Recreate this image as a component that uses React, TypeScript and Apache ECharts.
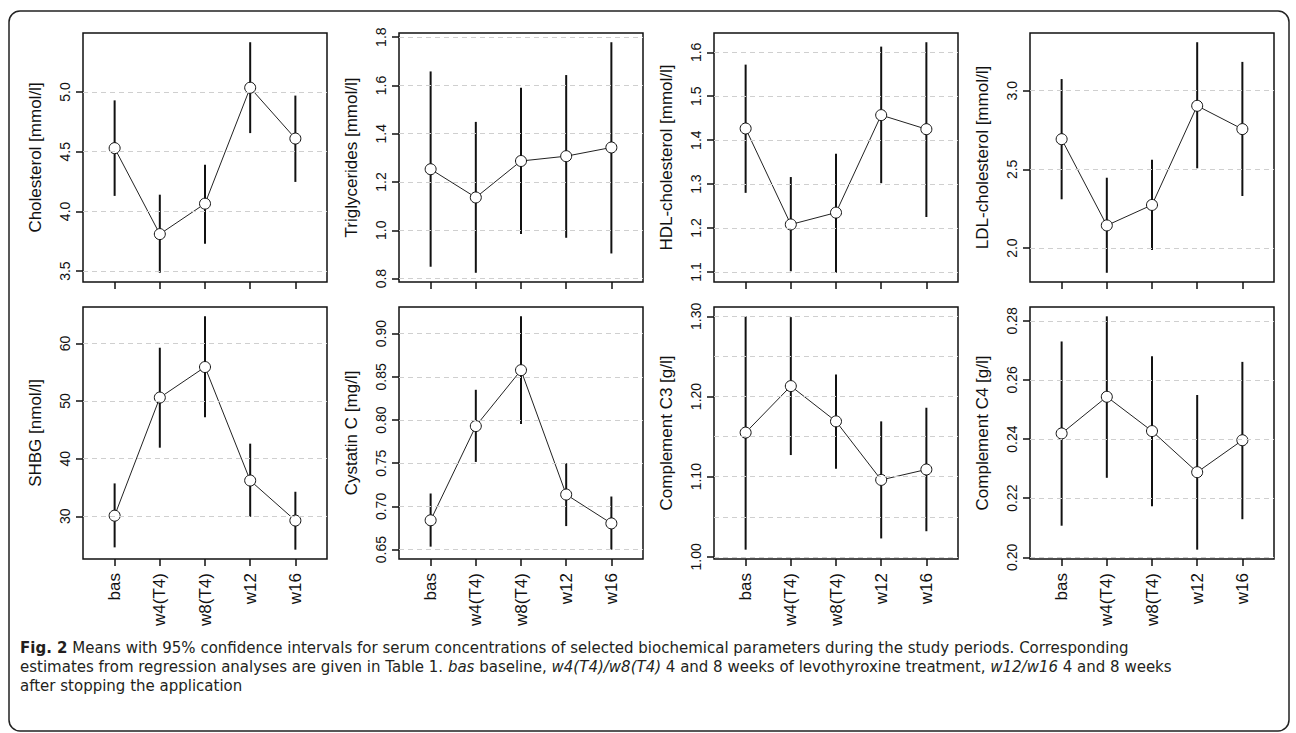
import React, { useEffect, useRef } from "react";
import * as echarts from "echarts";

// ---- data ----
const categories = ["bas", "w4(T4)", "w8(T4)", "w12", "w16"];
const xPositions = [1, 2, 3, 4, 5];

const cholMean = [4.53, 3.81, 4.065, 5.036, 4.61];
const cholLo = [4.13, 3.486, 3.73, 4.656, 4.247];
const cholHi = [4.93, 4.14, 4.39, 5.417, 4.97];

const trigMean = [1.253, 1.136, 1.287, 1.307, 1.343];
const trigLo = [0.849, 0.824, 0.985, 0.969, 0.904];
const trigHi = [1.658, 1.449, 1.59, 1.643, 1.779];

const hdlMean = [1.4265, 1.208, 1.235, 1.457, 1.425];
const hdlLo = [1.28, 1.1015, 1.098, 1.302, 1.225];
const hdlHi = [1.572, 1.316, 1.369, 1.613, 1.623];

const ldlMean = [2.692, 2.144, 2.274, 2.904, 2.756];
const ldlLo = [2.31, 1.843, 1.987, 2.507, 2.331];
const ldlHi = [3.074, 2.447, 2.561, 3.308, 3.183];

const shbgMean = [30.1, 50.6, 55.9, 36.2, 29.25];
const shbgLo = [24.6, 41.9, 47.2, 29.9, 24.2];
const shbgHi = [35.7, 59.25, 64.7, 42.6, 34.25];

const cysMean = [0.684, 0.793, 0.8577, 0.7138, 0.6804];
const cysLo = [0.6535, 0.7515, 0.7954, 0.6773, 0.65];
const cysHi = [0.715, 0.835, 0.92, 0.75, 0.7115];

const c3Mean = [1.155, 1.213, 1.169, 1.096, 1.109];
const c3Lo = [1.009, 1.127, 1.11, 1.023, 1.032];
const c3Hi = [1.3, 1.299, 1.2275, 1.169, 1.186];

const c4Mean = [0.2419, 0.2543, 0.2427, 0.2288, 0.2396];
const c4Lo = [0.2107, 0.2269, 0.2173, 0.2026, 0.2129];
const c4Hi = [0.273, 0.2815, 0.268, 0.2549, 0.2661];

// tick labels / grid lines
const cholTicks = [3.5, 4.0, 4.5, 5.0];
const trigTicks = [0.8, 1.0, 1.2, 1.4, 1.6, 1.8];
const hdlTicks = [1.1, 1.2, 1.3, 1.4, 1.5, 1.6];
const ldlTicks = [2.0, 2.5, 3.0];
const shbgTicks = [30, 40, 50, 60];
const cysTicks = [0.65, 0.7, 0.75, 0.8, 0.85, 0.9];
const c3Ticks = [1.0, 1.1, 1.2, 1.3];
const c3Grid = [1.0, 1.05, 1.1, 1.15, 1.2, 1.25, 1.3];
const c4Ticks = [0.2, 0.22, 0.24, 0.26, 0.28];

const titles = [
  "Cholesterol [mmol/l]",
  "Triglycerides [mmol/l]",
  "HDL-cholesterol [mmol/l]",
  "LDL-cholesterol [mmol/l]",
  "SHBG [nmol/l]",
  "Cystatin C [mg/l]",
  "Complement C3 [g/l]",
  "Complement C4 [g/l]",
];

const captionLines = [
  "{b|Fig. 2} Means with 95% confidence intervals for serum concentrations of selected biochemical parameters during the study periods. Corresponding",
  "estimates from regression analyses are given in Table 1. {i|bas} baseline, {i|w4(T4)/w8(T4)} 4 and 8 weeks of levothyroxine treatment, {i|w12/w16} 4 and 8 weeks",
  "after stopping the application",
];

const panels = [
  { mean: cholMean, lo: cholLo, hi: cholHi, ticks: cholTicks, grid: cholTicks, dec: 1 },
  { mean: trigMean, lo: trigLo, hi: trigHi, ticks: trigTicks, grid: trigTicks, dec: 1 },
  { mean: hdlMean, lo: hdlLo, hi: hdlHi, ticks: hdlTicks, grid: hdlTicks, dec: 1 },
  { mean: ldlMean, lo: ldlLo, hi: ldlHi, ticks: ldlTicks, grid: ldlTicks, dec: 1 },
  { mean: shbgMean, lo: shbgLo, hi: shbgHi, ticks: shbgTicks, grid: shbgTicks, dec: 0 },
  { mean: cysMean, lo: cysLo, hi: cysHi, ticks: cysTicks, grid: cysTicks, dec: 2 },
  { mean: c3Mean, lo: c3Lo, hi: c3Hi, ticks: c3Ticks, grid: c3Grid, dec: 2 },
  { mean: c4Mean, lo: c4Lo, hi: c4Hi, ticks: c4Ticks, grid: c4Ticks, dec: 2 },
];

const FONT = "'Liberation Sans', Arial, Helvetica, sans-serif";
const colLefts = [83, 399, 714, 1030];
const rowTops = [33, 307];
const rowHeights = [249, 252];
const PW = 244;

export default function App() {
  const ref = useRef<HTMLDivElement>(null);

  useEffect(() => {
    if (!ref.current) return;
    const chart = echarts.init(ref.current, null, { renderer: "svg" });

    const grids: any[] = [];
    const xAxes: any[] = [];
    const yAxes: any[] = [];
    const series: any[] = [];

    panels.forEach((p, i) => {
      const row = i < 4 ? 0 : 1;
      const col = i % 4;
      grids.push({
        left: colLefts[col],
        top: rowTops[row],
        width: PW,
        height: rowHeights[row],
        show: true,
        borderColor: "#111",
        borderWidth: 1.5,
        backgroundColor: "transparent",
        containLabel: false,
        outerBoundsMode: "none",
      });
      xAxes.push({
        type: "value",
        gridIndex: i,
        min: 0.3,
        max: 5.7,
        axisLine: { show: false },
        splitLine: { show: false },
        axisTick: {
          show: true,
          length: 7,
          customValues: xPositions,
          lineStyle: { color: "#111", width: 1.5 },
        },
        axisLabel: {
          show: row === 1,
          customValues: xPositions,
          rotate: 90,
          margin: 14,
          fontSize: 17,
          fontFamily: FONT,
          color: "#111",
          formatter: (v: number) => categories[Math.round(v) - 1] ?? "",
        },
      });
      const minLo = Math.min(...p.lo);
      const maxHi = Math.max(...p.hi);
      const r = maxHi - minLo;
      yAxes.push({
        type: "value",
        gridIndex: i,
        min: minLo - 0.04 * r,
        max: maxHi + 0.04 * r,
        name: titles[i],
        nameLocation: "middle",
        nameGap: 39,
        nameTextStyle: { fontSize: 17, fontFamily: FONT, color: "#111" },
        axisLine: { show: false },
        splitLine: { show: false },
        axisTick: {
          show: true,
          length: 7,
          customValues: p.ticks,
          lineStyle: { color: "#111", width: 1.5 },
        },
        axisLabel: {
          customValues: p.ticks,
          rotate: 90,
          margin: 11,
          fontSize: 14,
          fontFamily: FONT,
          color: "#111",
          formatter: (v: number) => v.toFixed(p.dec),
        },
      });
      // grid lines
      series.push({
        type: "line",
        xAxisIndex: i,
        yAxisIndex: i,
        data: xPositions.map((x, k) => [x, p.mean[k]]),
        symbol: "none",
        lineStyle: { opacity: 0 },
        silent: true,
        z: 1,
        markLine: {
          silent: true,
          symbol: ["none", "none"],
          label: { show: false },
          lineStyle: { type: [5, 4], color: "#cfcfcf", width: 1 },
          data: p.grid.map((v) => ({ yAxis: v })),
        },
      });
      // error bars
      series.push({
        type: "custom",
        xAxisIndex: i,
        yAxisIndex: i,
        z: 2,
        data: xPositions.map((x, k) => [x, p.lo[k], p.hi[k]]),
        encode: { x: 0, y: [1, 2] },
        renderItem: (_params: any, api: any) => {
          const a = api.coord([api.value(0), api.value(1)]);
          const b = api.coord([api.value(0), api.value(2)]);
          return {
            type: "line",
            shape: { x1: a[0], y1: a[1], x2: b[0], y2: b[1] },
            style: { stroke: "#111", lineWidth: 2 },
          };
        },
      });
      // means
      series.push({
        type: "line",
        xAxisIndex: i,
        yAxisIndex: i,
        z: 3,
        data: xPositions.map((x, k) => [x, p.mean[k]]),
        symbol: "circle",
        symbolSize: 11,
        itemStyle: { color: "#fff", borderColor: "#111", borderWidth: 1 },
        lineStyle: { color: "#222", width: 1 },
      });
    });

    const capFont = "'DejaVu Sans', 'Open Sans', sans-serif";
    const capSize = 15;
    const capStyle = { fontFamily: capFont, fontSize: capSize, fill: "#231f20" };
    const captionGraphics = captionLines.map((line, k) => ({
      type: "text",
      left: 20,
      top: 640 + k * 19,
      silent: true,
      style: {
        text: line,
        ...capStyle,
        rich: {
          b: { ...capStyle, fontWeight: "bold" },
          i: { ...capStyle, fontStyle: "italic" },
        },
      },
    }));

    chart.setOption({
      animation: false,
      backgroundColor: "#fff",
      grid: grids,
      xAxis: xAxes,
      yAxis: yAxes,
      series,
      graphic: [
        {
          type: "rect",
          shape: { x: 9, y: 11, width: 1280, height: 720, r: 11 },
          style: { fill: "none", stroke: "#222", lineWidth: 1.5 },
          silent: true,
        },
        ...captionGraphics,
      ],
    });
    return () => chart.dispose();
  }, []);

  return (
    <div
      ref={ref}
      style={{ position: "fixed", left: 0, top: 0, width: 1296, height: 733 }}
    />
  );
}
